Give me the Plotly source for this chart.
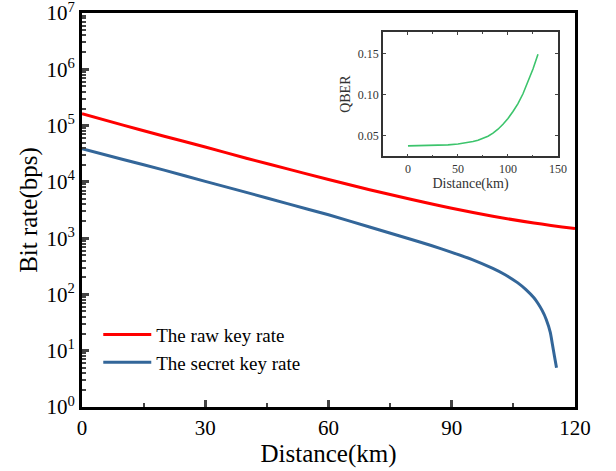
import plotly.graph_objects as go

# Main chart data
dist_raw = [0, 10, 20, 30, 40, 50, 60, 70, 80, 90, 100, 110, 120]
raw_rate = [1.62e5, 1.02e5, 6.46e4, 4.17e4, 2.63e4, 1.70e4, 1.10e4, 7.24e3, 4.90e3, 3.39e3, 2.45e3, 1.86e3, 1.48e3]

dist_secret = [0, 10, 20, 30, 40, 50, 60, 70, 80, 85, 90, 95, 100, 103, 106, 108, 110, 111, 112, 113, 114, 114.5, 115, 115.5]
secret_rate = [3.9e4, 2.5e4, 1.62e4, 1.02e4, 6.5e3, 4.1e3, 2.6e3, 1.58e3, 955, 740, 560, 417, 290, 224, 162, 123, 87, 69, 52, 36, 21, 13, 8, 5]

# Inset data
dist_qber = [0, 10, 20, 30, 40, 50, 60, 65, 70, 75, 80, 85, 90, 95, 100, 105, 110, 115, 120, 125, 130]
qber = [0.0378, 0.0379, 0.0381, 0.0384, 0.0390, 0.0400, 0.0418, 0.0430, 0.0446, 0.0467, 0.0495,
        0.0532, 0.0580, 0.0640, 0.0710, 0.0795, 0.0890, 0.1010, 0.1150, 0.1310, 0.1490]

x_ticks = [0, 30, 60, 90, 120]
y_exps = [0, 1, 2, 3, 4, 5, 6, 7]
inset_x_ticks = [0, 50, 100, 150]
inset_y_ticks = [0.05, 0.10, 0.15]

minor_y = [m * 10 ** e for e in range(0, 7) for m in range(2, 10)]

FONT = "Liberation Serif"

fig = go.Figure()
fig.add_trace(go.Scatter(x=dist_raw, y=raw_rate, mode="lines", name="The raw key rate",
                         line=dict(color="#ff0000", width=3, shape="spline")))
fig.add_trace(go.Scatter(x=dist_secret, y=secret_rate, mode="lines", name="The secret key rate",
                         line=dict(color="#336699", width=3, shape="spline", smoothing=0.6)))
fig.add_trace(go.Scatter(x=dist_qber, y=qber, mode="lines", showlegend=False,
                         line=dict(color="#3cc46c", width=1.6),
                         xaxis="x2", yaxis="y2"))

fig.update_layout(
    width=616, height=471,
    margin=dict(l=82, r=41, t=13, b=64),
    paper_bgcolor="white", plot_bgcolor="white",
    font=dict(family=FONT, color="black"),
    showlegend=True,
    legend=dict(x=0.033, y=0.232, xanchor="left", yanchor="top",
                font=dict(family=FONT, size=19), bgcolor="rgba(0,0,0,0)",
                tracegroupgap=0, itemwidth=48),
    xaxis=dict(range=[0, 120], tickvals=x_ticks, ticks="inside", ticklen=7, tickwidth=2.5,
               showline=True, linewidth=3, linecolor="black", mirror=True,
               showgrid=False, zeroline=False, automargin=False,
               tickfont=dict(size=21, family=FONT),
               minor=dict(tickvals=[15, 45, 75, 105], ticks="inside", ticklen=4, tickwidth=2),
               title=dict(text="Distance(km)", font=dict(size=25, family=FONT), standoff=2)),
    yaxis=dict(type="log", range=[0, 7.0005],
               tickvals=[10 ** e for e in y_exps],
               ticktext=["10<sup>%d</sup>" % e for e in y_exps],
               ticklabeloverflow="allow",
               ticks="inside", ticklen=7, tickwidth=2.5,
               showline=True, linewidth=3, linecolor="black", mirror=True,
               showgrid=False, zeroline=False, automargin=False,
               tickfont=dict(size=21, family=FONT),
               minor=dict(tickvals=minor_y, ticks="inside", ticklen=4, tickwidth=1.5),
               title=dict(text="Bit rate(bps)", font=dict(size=25, family=FONT), standoff=2)),
    xaxis2=dict(domain=[0.6105, 0.9655], anchor="y2", range=[-25, 150],
                tickvals=inset_x_ticks, ticks="inside", ticklen=3, tickwidth=1,
                showline=True, linewidth=1.5, linecolor="#333333", mirror="ticks",
                showgrid=False, zeroline=False, automargin=False,
                tickfont=dict(size=12, family=FONT, color="#333333"),
                minor=dict(tickvals=[-25, 25, 75, 125], ticks="inside", ticklen=2),
                title=dict(text="Distance(km)", font=dict(size=14, family=FONT, color="#333333"), standoff=1)),
    yaxis2=dict(domain=[0.636, 0.952], anchor="x2", range=[0.025, 0.176],
                tickvals=inset_y_ticks, ticktext=["0.05", "0.10", "0.15"],
                ticks="inside", ticklen=3, tickwidth=1,
                showline=True, linewidth=1.5, linecolor="#333333", mirror="ticks",
                showgrid=False, zeroline=False, automargin=False,
                tickfont=dict(size=12, family=FONT, color="#333333"),
                title=dict(text="QBER", font=dict(size=14, family=FONT, color="#333333"), standoff=4)),
)

fig.write_html("out.html")
